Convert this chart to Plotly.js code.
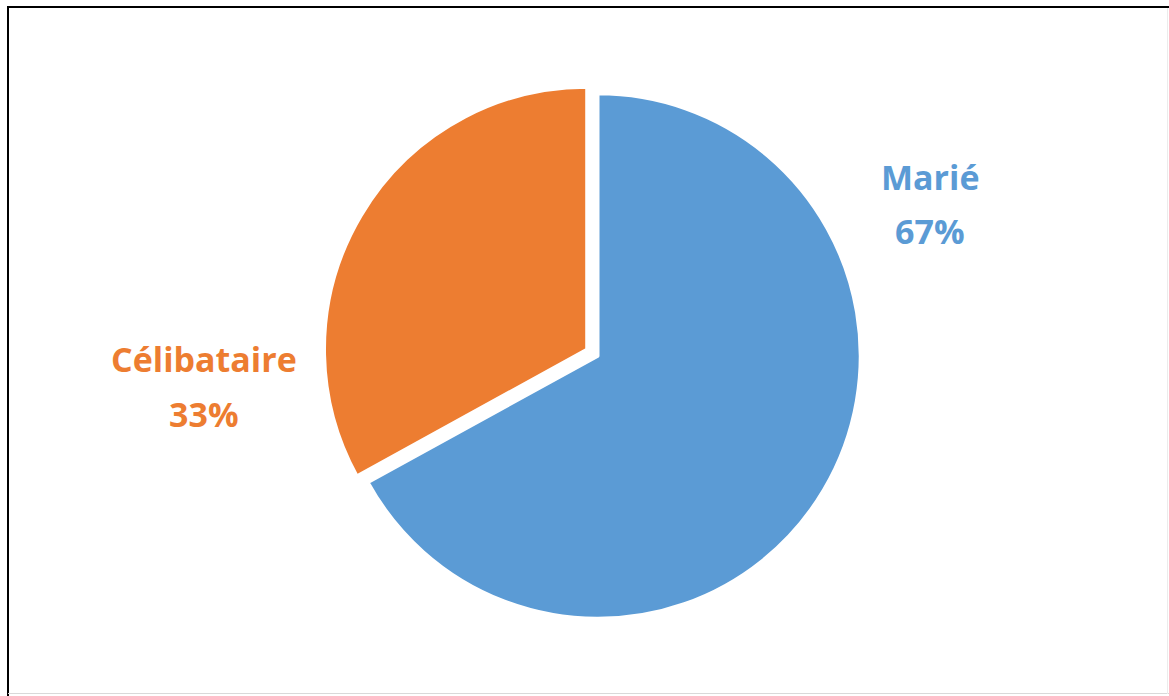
<!DOCTYPE html>
<html><head><meta charset="utf-8">
<script src="https://cdn.plot.ly/plotly-3.0.1.min.js"></script>
<style>html,body{margin:0;padding:0;background:#fff}#chart{width:1169px;height:696px}</style>
</head><body><div id="chart"></div>
<script>
const categories = ["Marié", "Célibataire"];
const values = [67, 33];
const colors = ["#5B9BD5", "#ED7D31"];
const pulls = [0, 0.05];

const total = values.reduce((a, b) => a + b, 0);
const pct = values.map(v => Math.round(v / total * 100) + "%");

const labelPos = [{x: 930, y1: 177, y2: 231}, {x: 204, y1: 359, y2: 414}];
const W = 1169, H = 696;
const annotations = [];
categories.forEach((c, i) => {
  const p = labelPos[i];
  [[c, p.y1], [pct[i], p.y2]].forEach(([t, y]) => {
    annotations.push({text: "<b>" + t + "</b>", x: p.x / W, y: 1 - y / H, xref: "paper", yref: "paper",
      xanchor: "center", yanchor: "middle", showarrow: false,
      font: {family: "Open Sans", size: 34, color: colors[i]}});
  });
});

const data = [{
  type: "pie", labels: categories, values: values, sort: false, direction: "clockwise", rotation: 0,
  pull: pulls, textinfo: "none", hoverinfo: "label+percent",
  marker: {colors: colors, line: {color: "#ffffff", width: 3}},
  domain: {x: [0.2759, 0.7472], y: [0.0928, 0.884]}, showlegend: false
}];

const px = v => v / W, py = v => 1 - v / H;
const layout = {
  width: W, height: H, margin: {l: 0, r: 0, t: 0, b: 0},
  paper_bgcolor: "#ffffff", showlegend: false, annotations: annotations,
  shapes: [
    {type: "line", xref: "paper", yref: "paper", x0: px(7), x1: px(1169), y0: py(7), y1: py(7), line: {color: "#000000", width: 2}},
    {type: "line", xref: "paper", yref: "paper", x0: px(8), x1: px(8), y0: py(6), y1: py(696), line: {color: "#000000", width: 2}},
    {type: "line", xref: "paper", yref: "paper", x0: px(8), x1: px(1169), y0: py(693.5), y1: py(693.5), line: {color: "#d9d9d9", width: 1}},
    {type: "line", xref: "paper", yref: "paper", x0: px(1167.5), x1: px(1167.5), y0: py(8), y1: py(694), line: {color: "#ececec", width: 1}}
  ]
};
Plotly.newPlot("chart", data, layout, {displayModeBar: false});
</script></body></html>
